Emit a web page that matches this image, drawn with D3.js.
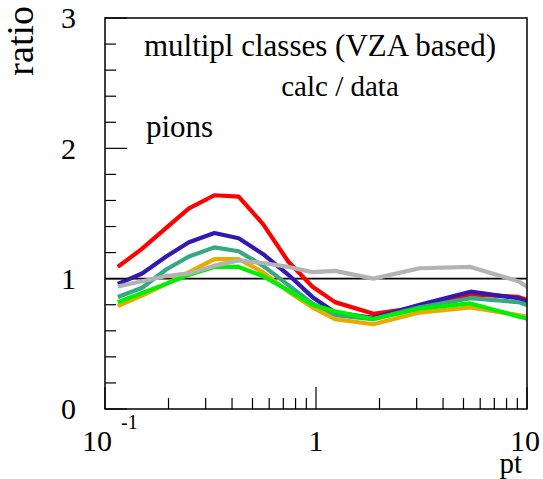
<!DOCTYPE html>
<html>
<head>
<meta charset="utf-8">
<script src="https://cdn.jsdelivr.net/npm/d3@7"></script>
<style>
  body { margin: 0; background: #fff; }
</style>
</head>
<body>
<svg id="chart" width="543" height="479"></svg>
<script>
// DATA
const pt = [0.115, 0.15, 0.195, 0.25, 0.33, 0.43, 0.56, 0.74, 0.96, 1.23, 1.87, 3.1, 5.4, 9.1, 15];

const red    = [1.09, 1.23, 1.39, 1.54, 1.64, 1.63, 1.42, 1.13, 0.94, 0.82, 0.73, 0.78, 0.88, 0.86, 0.74];
const blue   = [0.96, 1.04, 1.17, 1.28, 1.35, 1.31, 1.19, 1.03, 0.86, 0.74, 0.70, 0.80, 0.90, 0.85, 0.72];
const teal   = [0.86, 0.93, 1.07, 1.17, 1.24, 1.21, 1.10, 0.95, 0.81, 0.72, 0.69, 0.78, 0.85, 0.82, 0.70];
const orange = [0.79, 0.87, 0.96, 1.05, 1.15, 1.15, 1.05, 0.90, 0.78, 0.69, 0.65, 0.74, 0.78, 0.72, 0.66];
const green  = [0.82, 0.89, 0.96, 1.03, 1.09, 1.09, 1.02, 0.91, 0.80, 0.75, 0.69, 0.77, 0.81, 0.71, 0.62];
const gray   = [0.94, 0.98, 1.02, 1.04, 1.10, 1.14, 1.12, 1.09, 1.05, 1.06, 1.00, 1.08, 1.09, 0.98, 0.76];

const series = [
  { name: "red", values: red, color: "#ff0000" },
  { name: "blue", values: blue, color: "#3318b4" },
  { name: "teal", values: teal, color: "#35a884" },
  { name: "orange", values: orange, color: "#e6ad00" },
  { name: "green", values: green, color: "#00f000" },
  { name: "gray", values: gray, color: "#b3b3b3" },
];

const yTicks = [0, 1, 2, 3];
const xMajor = [0.1, 1, 10];
const xMinor = [0.2, 0.3, 0.4, 0.5, 0.6, 0.7, 0.8, 0.9, 2, 3, 4, 5, 6, 7, 8, 9];
const textLines = ["multipl classes (VZA based)", "calc / data", "pions"];

const FONT = '"Liberation Serif", "Times New Roman", serif';

// CANVAS SETUP
const svg = d3.select("#chart");
const frame = { left: 105, right: 527, top: 18, bottom: 409 };

const x = d3.scaleLog().domain([0.1, 10]).range([frame.left, frame.right]);
const y = d3.scaleLinear().domain([0, 3]).range([frame.bottom, frame.top]);

svg.append("defs").append("clipPath").attr("id", "clip")
  .append("rect")
  .attr("x", frame.left).attr("y", frame.top)
  .attr("width", frame.right - frame.left)
  .attr("height", frame.bottom - frame.top);

// reference line at ratio = 1
svg.append("line")
  .attr("x1", x(0.1)).attr("x2", x(10))
  .attr("y1", y(1)).attr("y2", y(1))
  .attr("stroke", "#000").attr("stroke-width", 1.6);

// curves
const line = d3.line()
  .x((d, i) => x(pt[i]))
  .y((d) => y(d));

svg.append("g").attr("clip-path", "url(#clip)")
  .selectAll("path")
  .data(series)
  .join("path")
  .attr("d", (d) => line(d.values))
  .attr("fill", "none")
  .attr("stroke", (d) => d.color)
  .attr("stroke-width", 4.2)
  .attr("stroke-linejoin", "round");

// frame
svg.append("rect")
  .attr("x", frame.left).attr("y", frame.top)
  .attr("width", frame.right - frame.left)
  .attr("height", frame.bottom - frame.top)
  .attr("fill", "none").attr("stroke", "#000").attr("stroke-width", 1.5);

// y ticks: major at integers, minor every 0.2
const yMinor = d3.range(0, 3.001, 0.2).filter((v) => Math.abs(v - Math.round(v)) > 1e-6);
svg.append("g").selectAll("line")
  .data(yMinor.map((v) => ({ v, len: 11 })).concat(yTicks.map((v) => ({ v, len: 22 }))))
  .join("line")
  .attr("x1", frame.left).attr("x2", (d) => frame.left + d.len)
  .attr("y1", (d) => y(d.v)).attr("y2", (d) => y(d.v))
  .attr("stroke", "#000").attr("stroke-width", 1.2);

svg.append("g").selectAll("text")
  .data(yTicks)
  .join("text")
  .attr("x", 76)
  .attr("y", (d) => y(d))
  .attr("dy", "0.34em")
  .attr("text-anchor", "end")
  .attr("font-size", 30)
  .text((d) => d);

// x ticks
svg.append("g").selectAll("line")
  .data(xMinor.map((v) => ({ v, len: 11 })).concat(xMajor.map((v) => ({ v, len: 22 }))))
  .join("line")
  .attr("x1", (d) => x(d.v)).attr("x2", (d) => x(d.v))
  .attr("y1", frame.bottom).attr("y2", (d) => frame.bottom - d.len)
  .attr("stroke", "#000").attr("stroke-width", 1.2);

const lab01 = svg.append("text")
  .attr("x", x(0.1) - 23).attr("y", 451)
  .attr("font-size", 30);
lab01.append("tspan").text("10");
lab01.append("tspan").attr("dx", 9).attr("dy", -22).attr("font-size", 20).text("-1");

svg.append("text")
  .attr("x", x(1)).attr("y", 451)
  .attr("text-anchor", "middle").attr("font-size", 30)
  .text("1");
svg.append("text")
  .attr("x", x(10) - 2).attr("y", 451)
  .attr("text-anchor", "middle").attr("font-size", 30)
  .text("10");

// axis titles
svg.append("text")
  .attr("x", 522).attr("y", 473)
  .attr("text-anchor", "end").attr("font-size", 29)
  .text("pt");
svg.append("text")
  .attr("transform", "translate(33,6) rotate(-90)")
  .attr("text-anchor", "end").attr("font-size", 38)
  .text("ratio");

// annotation text
svg.append("text")
  .attr("x", 320).attr("y", 56)
  .attr("text-anchor", "middle").attr("font-size", 31)
  .text(textLines[0]);
svg.append("text")
  .attr("x", 340).attr("y", 96)
  .attr("text-anchor", "middle").attr("font-size", 29)
  .text(textLines[1]);
svg.append("text")
  .attr("x", 146).attr("y", 137)
  .attr("font-size", 31)
  .text(textLines[2]);

svg.selectAll("text").style("font-family", FONT).style("fill", "#000");
</script>
</body>
</html>
